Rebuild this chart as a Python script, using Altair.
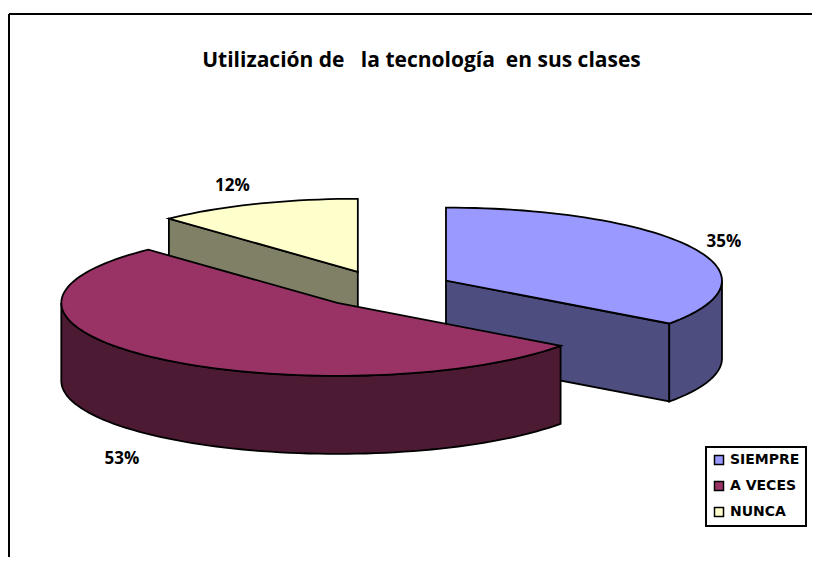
import numpy as np
import altair as alt

# --- data ---
categories = ["SIEMPRE", "A VECES", "NUNCA"]
shares = [35, 53, 12]
percent_labels = ["35%", "53%", "12%"]
title_text = "Utilización de\u00a0\u00a0 la tecnología\u00a0 en sus clases"

# --- styling ---
top_colors = ["#9999FF", "#993366", "#FFFFCC"]
side_colors = ["#4D4D80", "#4D1A33", "#808066"]
draw_order = [2, 0, 1]          # back slice first, front slice last

# --- 3D pie geometry, in units of the pie's radius ---
RADIUS_PX = 276
TILT = 73 / 276
DEPTH = 78 / 276
EXPLODE = 70 / 276
label_radius = [1.13, 1.18, 1.235]
label_lift = [0.005, -0.33, 0.008]

PLOT_W, PLOT_H = 803, 543

edges = np.cumsum([0] + shares) / sum(shares) * 360.0


def rim(a, b):
    n = max(int(abs(b - a) / 2), 1) + 1
    t = np.radians(np.linspace(a, b, n))
    return np.sin(t), TILT * np.cos(t)


def feature(xs, ys, name):
    ring = [[float(x), float(y)] for x, y in zip(xs, ys)]
    ring.append(ring[0])
    return {
        "type": "Feature",
        "properties": {"name": name},
        "geometry": {"type": "Polygon", "coordinates": [ring]},
    }


def slice_features(i):
    a, b = edges[i], edges[i + 1]
    mid = np.radians((a + b) / 2)
    ox, oy = EXPLODE * np.sin(mid), EXPLODE * TILT * np.cos(mid)
    walls = []
    for ang, visible in ((a, np.sin(np.radians(a)) < -1e-6), (b, np.sin(np.radians(b)) > 1e-6)):
        if visible:
            ex, ey = rim(ang, ang)
            ex, ey = ex[0] + ox, ey[0] + oy
            walls.append(feature([ox, ex, ex, ox], [oy, ey, ey - DEPTH, oy - DEPTH], categories[i]))
    lo, hi = max(a, 90), min(b, 270)
    if lo < hi:
        rx, ry = rim(lo, hi)
        rx, ry = rx + ox, ry + oy
        walls.append(feature(np.r_[rx, rx[::-1]], np.r_[ry, ry[::-1] - DEPTH], categories[i]))
    rx, ry = rim(a, b)
    top = feature(np.r_[ox, rx + ox], np.r_[oy, ry + oy], categories[i])
    return walls, top


projection = alt.Projection(type="identity", reflectY=True, scale=RADIUS_PX, translate=[374.6, 275])
color_scale = alt.Scale(domain=categories, range=top_colors)
legend = alt.Legend(
    title=None, orient="none", legendX=697, legendY=433,
    symbolType="square", symbolSize=81, symbolStrokeColor="black", symbolStrokeWidth=1.5,
    labelFont="DejaVu Sans", labelFontWeight="bold", labelFontSize=14, labelColor="black",
    labelOffset=4, labelLimit=200, rowPadding=10,
    padding=6, fillColor="white", strokeColor="black",
)

frame_top = alt.Chart(alt.Data(values=[{}])).mark_rule(color="black", strokeWidth=2).encode(
    x=alt.value(0), x2=alt.value(PLOT_W), y=alt.value(0)
)
frame_left = alt.Chart(alt.Data(values=[{}])).mark_rule(color="black", strokeWidth=2).encode(
    x=alt.value(0), y=alt.value(0), y2=alt.value(PLOT_H)
)

layers = [frame_top, frame_left]
for i in draw_order:
    walls, top = slice_features(i)
    for w in walls:
        layers.append(
            alt.Chart(alt.Data(values=[w])).mark_geoshape(
                fill=side_colors[i], stroke="black", strokeWidth=1.8
            )
        )
    layers.append(
        alt.Chart(alt.Data(values=[top])).mark_geoshape(stroke="black", strokeWidth=1.8).encode(
            color=alt.Color("properties.name:N", scale=color_scale, legend=legend)
        )
    )

lab_rows = []
for i, txt in enumerate(percent_labels):
    mid = np.radians((edges[i] + edges[i + 1]) / 2)
    r = EXPLODE + label_radius[i]
    lab_rows.append({
        "label": txt,
        "lon": float(np.sin(mid) * r),
        "lat": float(TILT * np.cos(mid) * r + label_lift[i]),
    })

layers.append(
    alt.Chart(alt.Data(values=lab_rows)).mark_text(
        font="Open Sans", fontWeight="bold", fontSize=17, color="black", align="center", baseline="middle"
    ).encode(longitude="lon:Q", latitude="lat:Q", text="label:N")
)

chart = (
    alt.layer(*layers)
    .properties(
        width=PLOT_W, height=PLOT_H, projection=projection,
        padding={"left": 1, "top": 6, "right": 0, "bottom": 0},
        autosize=alt.AutoSizeParams(type="none"),
        title=alt.TitleParams(
            text=title_text, font="Open Sans", fontWeight="bold", fontSize=21, color="black",
            anchor="middle", frame="group", offset=-58, dx=11,
        ),
    )
    .configure(background="white")
    .configure_view(stroke=None, fill="white")
    .configure_legend(strokeWidth=2)
)

chart.save("out.html", embed_options={"renderer": "svg", "actions": False})
